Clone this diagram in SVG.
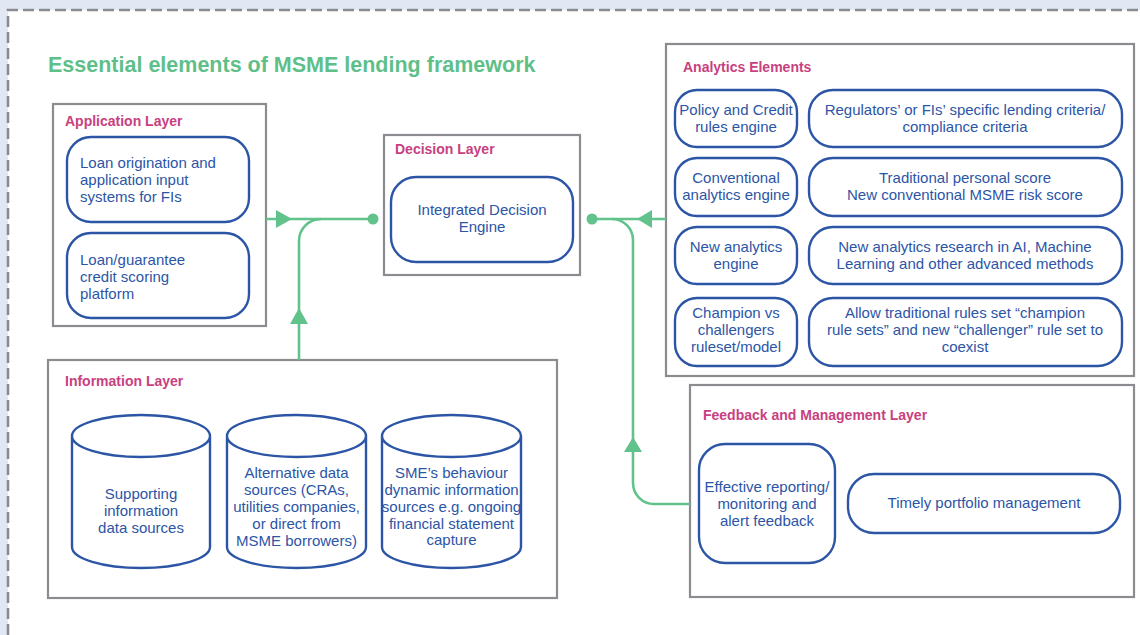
<svg xmlns="http://www.w3.org/2000/svg" width="1140" height="635" viewBox="0 0 1140 635">
<style>
.layer{fill:#fff;stroke:#8c8c90;stroke-width:2.2}
.node{fill:#fff;stroke:#2c55a6;stroke-width:2.4}
.lt{font-family:"Liberation Sans",Arial,sans-serif;font-size:14px;font-weight:bold;fill:#c8417f}
.t{font-family:"Liberation Sans",Arial,sans-serif;font-size:15px;fill:#2c55a6}
.c{text-anchor:middle}
.con{fill:none;stroke:#62c28c;stroke-width:2.6}
.ah{fill:#62c28c}
</style>
<rect x="0" y="0" width="1140" height="635" fill="#e1e8f4"/>
<rect x="8" y="10" width="1140" height="635" fill="#fff"/>
<path d="M8,635 V10 H1140" fill="none" stroke="#8b8b8f" stroke-width="2.6" stroke-dasharray="11 5"/>
<text x="48" y="72" font-family="Liberation Sans,Arial,sans-serif" font-size="21.5" font-weight="bold" fill="#5fbf89">Essential elements of MSME lending framework</text>

<g id="application-layer">
<rect class="layer" x="53" y="104" width="213" height="222"/>
<text class="lt" x="65" y="126">Application Layer</text>
<g id="loan-origination">
<rect class="node" x="67" y="137" width="182" height="85" rx="24"/>
<text class="t" x="80" y="168">Loan origination and</text>
<text class="t" x="80" y="185">application input</text>
<text class="t" x="80" y="202">systems for FIs</text>
</g>
<g id="credit-scoring">
<rect class="node" x="67" y="233" width="182" height="85" rx="24"/>
<text class="t" x="80" y="265">Loan/guarantee</text>
<text class="t" x="80" y="282">credit scoring</text>
<text class="t" x="80" y="299">platform</text>
</g>
</g>

<g id="decision-layer">
<rect class="layer" x="384" y="135" width="196" height="140"/>
<text class="lt" x="395" y="154">Decision Layer</text>
<g id="integrated-decision-engine">
<rect class="node" x="391" y="177" width="182" height="85" rx="25"/>
<text class="t c" x="482" y="215">Integrated Decision</text>
<text class="t c" x="482" y="232">Engine</text>
</g>
</g>

<g id="analytics-elements">
<rect class="layer" x="666" y="44" width="468" height="332"/>
<text class="lt" x="683" y="72">Analytics Elements</text>
<g id="policy-engine">
<rect class="node" x="675" y="90" width="122" height="57" rx="22"/>
<text class="t c" x="736" y="115">Policy and Credit</text>
<text class="t c" x="736" y="132">rules engine</text>
</g>
<g id="regulators-criteria">
<rect class="node" x="809" y="90" width="313" height="57" rx="24"/>
<text class="t c" x="965" y="115">Regulators’ or FIs’ specific lending criteria/</text>
<text class="t c" x="965" y="132">compliance criteria</text>
</g>
<g id="conventional-engine">
<rect class="node" x="675" y="158" width="122" height="58" rx="22"/>
<text class="t c" x="736" y="183">Conventional</text>
<text class="t c" x="736" y="200">analytics engine</text>
</g>
<g id="conventional-scores">
<rect class="node" x="809" y="158" width="313" height="58" rx="24"/>
<text class="t c" x="965" y="183">Traditional personal score</text>
<text class="t c" x="965" y="200">New conventional MSME risk score</text>
</g>
<g id="new-analytics-engine">
<rect class="node" x="675" y="227" width="122" height="57" rx="22"/>
<text class="t c" x="736" y="252">New analytics</text>
<text class="t c" x="736" y="269">engine</text>
</g>
<g id="new-analytics-research">
<rect class="node" x="809" y="227" width="313" height="57" rx="24"/>
<text class="t c" x="965" y="252">New analytics research in AI, Machine</text>
<text class="t c" x="965" y="269">Learning and other advanced methods</text>
</g>
<g id="champion-challenger">
<rect class="node" x="675" y="298" width="122" height="68" rx="22"/>
<text class="t c" x="736" y="318">Champion vs</text>
<text class="t c" x="736" y="335">challengers</text>
<text class="t c" x="736" y="352">ruleset/model</text>
</g>
<g id="champion-rulesets">
<rect class="node" x="809" y="298" width="313" height="68" rx="24"/>
<text class="t c" x="965" y="318">Allow traditional rules set “champion</text>
<text class="t c" x="965" y="335">rule sets” and new “challenger” rule set to</text>
<text class="t c" x="965" y="352">coexist</text>
</g>
</g>

<g id="information-layer">
<rect class="layer" x="48" y="360" width="509" height="238"/>
<text class="lt" x="65" y="386">Information Layer</text>
<g id="supporting-data">
<path class="node" d="M72,436 A69,21 0 0 1 210,436 A69,21 0 0 1 72,436 Z M72,436 V547 A69,21 0 0 0 210,547 V436"/>
<text class="t c" x="141" y="499">Supporting</text>
<text class="t c" x="141" y="516">information</text>
<text class="t c" x="141" y="533">data sources</text>
</g>
<g id="alternative-data">
<path class="node" d="M227,436 A69.5,21 0 0 1 366,436 A69.5,21 0 0 1 227,436 Z M227,436 V547 A69.5,21 0 0 0 366,547 V436"/>
<text class="t c" x="296.5" y="478">Alternative data</text>
<text class="t c" x="296.5" y="495">sources (CRAs,</text>
<text class="t c" x="296.5" y="512">utilities companies,</text>
<text class="t c" x="296.5" y="529">or direct from</text>
<text class="t c" x="296.5" y="546">MSME borrowers)</text>
</g>
<g id="sme-behaviour">
<path class="node" d="M382,436 A69.5,21 0 0 1 521,436 A69.5,21 0 0 1 382,436 Z M382,436 V547 A69.5,21 0 0 0 521,547 V436"/>
<text class="t c" x="451.5" y="478">SME’s behaviour</text>
<text class="t c" x="451.5" y="495">dynamic information</text>
<text class="t c" x="451.5" y="512">sources e.g. ongoing</text>
<text class="t c" x="451.5" y="529">financial statement</text>
<text class="t c" x="451.5" y="545">capture</text>
</g>
</g>

<g id="feedback-layer">
<rect class="layer" x="690" y="385" width="444" height="212"/>
<text class="lt" x="703" y="420">Feedback and Management Layer</text>
<g id="effective-reporting">
<rect class="node" x="699" y="444" width="136" height="119" rx="26"/>
<text class="t c" x="767" y="492">Effective reporting/</text>
<text class="t c" x="767" y="509">monitoring and</text>
<text class="t c" x="767" y="526">alert feedback</text>
</g>
<g id="portfolio-management">
<rect class="node" x="848" y="474" width="272" height="59" rx="26"/>
<text class="t c" x="984" y="508">Timely portfolio management</text>
</g>
</g>

<g id="connectors">
<path class="con" d="M266,219 H373"/>
<path class="con" d="M299,360 V241 A22,22 0 0 1 321,219"/>
<circle class="ah" cx="373" cy="219" r="5.5"/>
<polygon class="ah" points="276,210 292,219 276,228"/>
<polygon class="ah" points="290,324 308,324 299,308"/>
<path class="con" d="M592,219 H666"/>
<path class="con" d="M612,219 A21,21 0 0 1 633,240 V483 A21,21 0 0 0 654,504 H690"/>
<circle class="ah" cx="592" cy="219" r="5.5"/>
<polygon class="ah" points="652,210 637,219 652,228"/>
<polygon class="ah" points="624,452 642,452 633,437"/>
</g>
</svg>
